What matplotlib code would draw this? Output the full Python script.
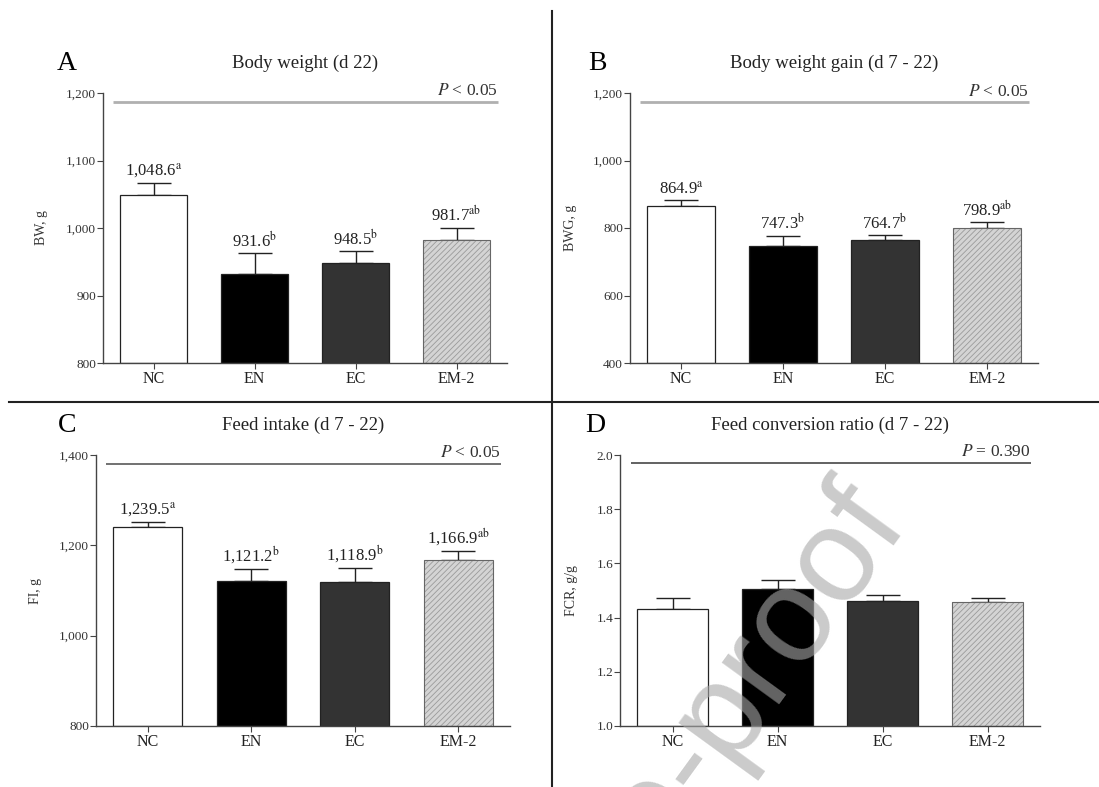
import matplotlib
matplotlib.use("Agg")
import matplotlib.pyplot as plt
from matplotlib.ticker import FuncFormatter

plt.rcParams['font.family'] = ['Liberation Serif', 'DejaVu Serif']
plt.rcParams['mathtext.fontset'] = 'stix'
plt.rcParams['hatch.linewidth'] = 0.6

# data
groups = ['NC', 'EN', 'EC', 'EM-2']

bw = [1048.6, 931.6, 948.5, 981.7]
bw_sem = [18, 31, 17, 19]
bw_sup = ['a', 'b', 'b', 'ab']

bwg = [864.9, 747.3, 764.7, 798.9]
bwg_sem = [18, 30, 14, 18]
bwg_sup = ['a', 'b', 'b', 'ab']

fi = [1239.5, 1121.2, 1118.9, 1166.9]
fi_sem = [12, 27, 32, 21]
fi_sup = ['a', 'b', 'b', 'ab']

fcr = [1.432, 1.505, 1.462, 1.459]
fcr_sem = [0.039, 0.034, 0.021, 0.012]

fill_colors = ['white', 'black', '#333333', '#d4d4d4']

W, H = 1099, 787
fig = plt.figure(figsize=(W / 100, H / 100), dpi=100)


def px_axes(left, top, right, bottom):
    return fig.add_axes([left / W, 1 - bottom / H, (right - left) / W, (bottom - top) / H])


def comma0(v, pos):
    return '{:,.0f}'.format(v)


def comma1(v):
    return '{:,.1f}'.format(v)


def panel(ax, letter, title, ylabel, vals, sem, sups, ylim, yticks, fmt,
          pline, ptext, pcolor, plw, ylab_off):
    x = range(len(groups))
    for i in x:
        if groups[i] == 'EM-2':
            ax.bar(i, vals[i] - ylim[0], bottom=ylim[0], width=0.67, color=fill_colors[i],
                   hatch='//////', edgecolor='#9a9a9a', linewidth=0, zorder=2)
            ax.bar(i, vals[i] - ylim[0], bottom=ylim[0], width=0.67, fill=False,
                   edgecolor='#666666', linewidth=0.8, zorder=3)
        else:
            ax.bar(i, vals[i] - ylim[0], bottom=ylim[0], width=0.67, color=fill_colors[i],
                   edgecolor='#222222', linewidth=0.9, zorder=2)
    ax.errorbar(list(x), vals, yerr=[[0] * len(vals), sem], fmt='none', ecolor='#222222',
                elinewidth=1.0, capsize=12, capthick=1.0, zorder=1)
    if sups is not None:
        for i in x:
            txt = comma1(vals[i]) + r'$^{\mathrm{' + sups[i] + '}}$'
            ax.annotate(txt, (i, vals[i] + sem[i]), xytext=(0, 2), textcoords='offset points',
                        ha='center', va='bottom', fontsize=12, color='#222222')
    ax.plot([-0.4, 3.41], [pline, pline], color=pcolor, lw=plw, solid_capstyle='butt')
    ax.annotate(ptext, (3.41, pline), xytext=(0, 2), textcoords='offset points',
                ha='right', va='bottom', fontsize=12.5, color='#333333', annotation_clip=False)

    ax.set_xlim(-0.5, 3.5)
    ax.set_ylim(*ylim)
    ax.set_yticks(yticks)
    ax.yaxis.set_major_formatter(FuncFormatter(fmt))
    ax.set_xticks(list(x))
    ax.set_xticklabels(groups, fontsize=11.5, color='#222222')
    ax.tick_params(axis='y', labelsize=9.5, length=4, width=0.8, color='#444444',
                   labelcolor='#333333', pad=1)
    ax.tick_params(axis='x', length=4, width=0.8, color='#444444', pad=2)
    for s in ['top', 'right']:
        ax.spines[s].set_visible(False)
    for s in ['left', 'bottom']:
        ax.spines[s].set_color('#444444')
        ax.spines[s].set_linewidth(1.0)
    ax.set_ylabel(ylabel, fontsize=10, color='#333333')
    ax.yaxis.set_label_coords(ylab_off, 0.5)
    ax.text(0.5, 1.11, title, transform=ax.transAxes, ha='center', va='center',
            fontsize=13.5, color='#222222')
    ax.text(letter[1], 1.11, letter[0], transform=ax.transAxes, ha='center', va='center',
            fontsize=20, color='black')


axA = px_axes(103, 93, 507, 363)
panel(axA, ('A', -0.09), 'Body weight (d 22)', 'BW, g', bw, bw_sem, bw_sup,
      (800, 1200), [800, 900, 1000, 1100, 1200], comma0,
      1187, r'$P$ < 0.05', '#b0b0b0', 2.0, -0.135)

axB = px_axes(630, 93, 1038, 363)
panel(axB, ('B', -0.08), 'Body weight gain (d 7 - 22)', 'BWG, g', bwg, bwg_sem, bwg_sup,
      (400, 1200), [400, 600, 800, 1000, 1200], comma0,
      1172, r'$P$ < 0.05', '#b0b0b0', 2.0, -0.13)

axC = px_axes(96, 455, 510, 726)
panel(axC, ('C', -0.07), 'Feed intake (d 7 - 22)', 'FI, g', fi, fi_sem, fi_sup,
      (800, 1400), [800, 1000, 1200, 1400], comma0,
      1380, r'$P$ < 0.05', '#666666', 1.3, -0.13)

axD = px_axes(620, 455, 1040, 726)
panel(axD, ('D', -0.06), 'Feed conversion ratio (d 7 - 22)', 'FCR, g/g', fcr, fcr_sem, None,
      (1.0, 2.0), [1.0, 1.2, 1.4, 1.6, 1.8, 2.0],
      lambda v, p: '{:.1f}'.format(v),
      1.97, r'$P$ = 0.390', '#555555', 1.3, -0.1)

# panel dividers
fig.add_artist(plt.Line2D([552 / W, 552 / W], [1 - 11 / H, 0], color='#222222', lw=1.5))
fig.add_artist(plt.Line2D([9 / W, 1], [1 - 402 / H, 1 - 402 / H], color='#222222', lw=1.5))

# watermark
fig.text(910 / W, 1 - 525 / H, 'Journal Pre-proof', rotation=54, rotation_mode='anchor',
         ha='right', va='baseline', fontsize=96, family='Liberation Sans',
         color='#a8a8a8', alpha=0.6, zorder=10)

fig.savefig('out.png', dpi=100)
